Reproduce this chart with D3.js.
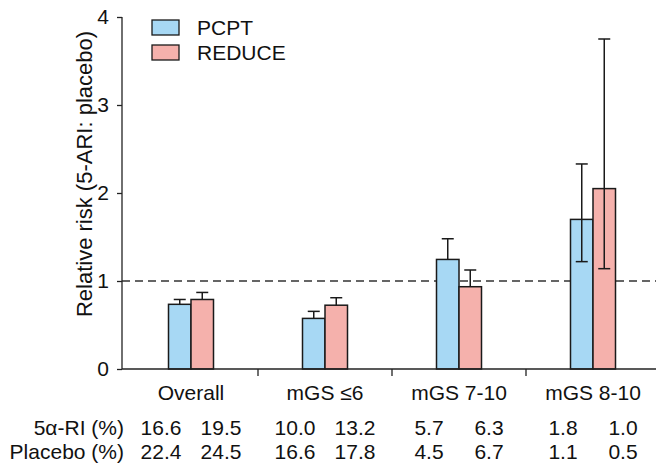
<!DOCTYPE html>
<html>
<head>
	<meta charset="utf-8">
	<title></title>
	<script src="https://d3js.org/d3.v7.min.js" charset="utf-8"></script>
	<style>
		body{margin:0;background:#fff;}
		text{font-family:"Liberation Sans",Arial,sans-serif;fill:#111;}
	</style>
</head>
<body>
	<script>
	var w=656;
	var h=464;
	var categories=["Overall","mGS \u22646","mGS 7-10","mGS 8-10"];
	var series=["PCPT","REDUCE"];
	var colors=["#a7d8f4","#f5b1ac"];
	// relative risk, upper and lower limits (lower only drawn where visible)
	var pcpt=[0.735,0.575,1.245,1.70];
	var pcptHi=[0.79,0.655,1.48,2.33];
	var pcptLo=[null,null,null,1.22];
	var reduce=[0.79,0.725,0.935,2.05];
	var reduceHi=[0.87,0.81,1.125,3.75];
	var reduceLo=[null,null,null,1.14];
	var yTicks=[0,1,2,3,4];
	var rowLabels=["5\u03b1-RI (%)","Placebo (%)"];
	var riRow=[["16.6","19.5"],["10.0","13.2"],["5.7","6.3"],["1.8","1.0"]];
	var placeboRow=[["22.4","24.5"],["16.6","17.8"],["4.5","6.7"],["1.1","0.5"]];

	var svg=d3.select("body").append("svg")
		.attr("width",w)
		.attr("height",h);

	var x=d3.scaleBand().domain(categories).range([124,660]);
	var y=d3.scaleLinear().domain([0,4]).range([369,17]);
	var barW=22.5;
	var fs=21;

	var data=categories.map(function(c,i){
		return [
			{cat:c,s:0,v:pcpt[i],hi:pcptHi[i],lo:pcptLo[i]},
			{cat:c,s:1,v:reduce[i],hi:reduceHi[i],lo:reduceLo[i]}
		];
	}).flat();

	function cx(d){ return x(d.cat)+x.bandwidth()/2+(d.s===0?-barW/2:barW/2); }

	// reference line at 1
	svg.append("line")
		.attr("x1",122).attr("x2",w)
		.attr("y1",y(1)).attr("y2",y(1))
		.attr("stroke","#333").attr("stroke-width",1.3)
		.attr("stroke-dasharray","8,5");

	// bars
	svg.selectAll("rect.bar")
		.data(data)
		.enter()
		.append("rect")
		.attr("class","bar")
		.attr("x",function(d){return cx(d)-barW/2;})
		.attr("y",function(d){return y(d.v);})
		.attr("width",barW)
		.attr("height",function(d){return y(0)-y(d.v);})
		.attr("fill",function(d){return colors[d.s];})
		.attr("stroke","#1a1a1a")
		.attr("stroke-width",1.5);

	// error bars
	var cap=12;
	var err=svg.append("g").attr("stroke","#1a1a1a").attr("stroke-width",1.5);
	data.forEach(function(d){
		var lo=d.lo==null?d.v:d.lo;
		err.append("line").attr("x1",cx(d)).attr("x2",cx(d)).attr("y1",y(lo)).attr("y2",y(d.hi));
		err.append("line").attr("x1",cx(d)-cap/2).attr("x2",cx(d)+cap/2).attr("y1",y(d.hi)).attr("y2",y(d.hi));
		if(d.lo!=null){
			err.append("line").attr("x1",cx(d)-cap/2).attr("x2",cx(d)+cap/2).attr("y1",y(d.lo)).attr("y2",y(d.lo));
		}
	});

	// y axis
	var yAxis=svg.append("g")
		.attr("transform","translate(122,0)")
		.call(d3.axisLeft(y).tickValues(yTicks).tickSize(5).tickPadding(8).tickFormat(d3.format("d")));
	yAxis.select(".domain").attr("d","M0,"+y(4)+"V"+y(0)).attr("stroke","#222").attr("stroke-width",1.3);
	yAxis.selectAll(".tick line").attr("stroke","#222").attr("stroke-width",1.3);
	yAxis.selectAll("text").attr("font-size",fs).attr("font-family","Liberation Sans, Arial, sans-serif").attr("fill","#111");

	// x axis, ticks between groups
	var xAxis=svg.append("g").attr("transform","translate(0,"+y(0)+")");
	xAxis.append("line").attr("x1",122).attr("x2",w).attr("stroke","#222").attr("stroke-width",1.3);
	xAxis.selectAll("line.tk")
		.data(categories.slice(1))
		.enter()
		.append("line")
		.attr("class","tk")
		.attr("x1",function(d){return x(d);})
		.attr("x2",function(d){return x(d);})
		.attr("y1",0).attr("y2",7)
		.attr("stroke","#222").attr("stroke-width",1.3);
	svg.selectAll("text.cat")
		.data(categories)
		.enter()
		.append("text")
		.attr("class","cat")
		.attr("x",function(d){return x(d)+x.bandwidth()/2;})
		.attr("y",400)
		.attr("text-anchor","middle")
		.attr("font-size",fs)
		.text(function(d){return d;});

	// y label
	svg.append("text")
		.attr("transform","translate(92,174) rotate(-90)")
		.attr("text-anchor","middle")
		.attr("font-size",22)
		.text("Relative risk (5-ARI: placebo)");

	// table rows under the axis
	[riRow,placeboRow].forEach(function(row,r){
		var yy=r===0?435:459;
		svg.append("text")
			.attr("x",124).attr("y",yy)
			.attr("text-anchor","end")
			.attr("font-size",fs)
			.text(rowLabels[r]);
		categories.forEach(function(c,i){
			row[i].forEach(function(v,j){
				svg.append("text")
					.attr("x",x(c)+x.bandwidth()/2+(j===0?-30:30))
					.attr("y",yy)
					.attr("text-anchor","middle")
					.attr("font-size",fs)
					.text(v);
			});
		});
	});

	// legend
	var lg=svg.selectAll("g.lg")
		.data(series)
		.enter()
		.append("g")
		.attr("class","lg")
		.attr("transform",function(d,i){return "translate(152,"+(20+i*25)+")";});
	lg.append("rect")
		.attr("width",27).attr("height",15)
		.attr("fill",function(d,i){return colors[i];})
		.attr("stroke","#1a1a1a").attr("stroke-width",1.3);
	lg.append("text")
		.attr("x",45).attr("y",15)
		.attr("font-size",fs)
		.text(function(d){return d;});
	</script>
</body>
</html>
